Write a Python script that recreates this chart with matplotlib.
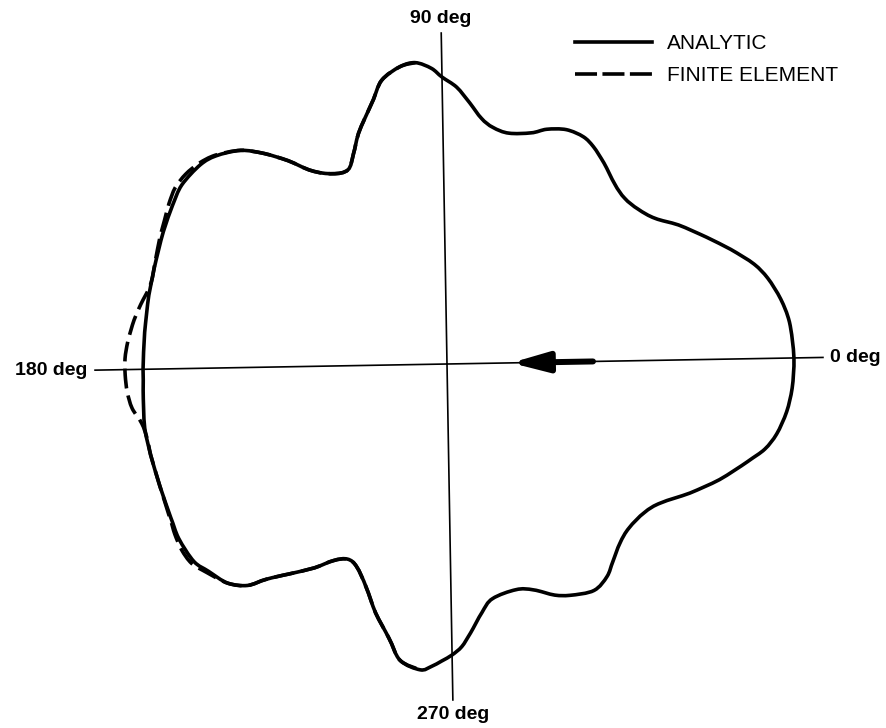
import numpy as np
import matplotlib
matplotlib.use("Agg")
import matplotlib.pyplot as plt
from matplotlib.path import Path
from matplotlib.patches import PathPatch
from matplotlib.lines import Line2D

plt.rcParams.update({"font.family": ["Liberation Sans", "DejaVu Sans"]})

# analytic response, angle (deg) and radius (arbitrary units)
analytic_deg = [0, 6, 10, 14, 17, 21, 25, 30, 34, 38, 42, 46, 51, 55, 58, 62, 66, 69,
                74, 78, 81, 84, 87, 90, 92, 95, 98, 102, 105, 110, 113, 116, 120, 124,
                127, 130, 133, 137, 140, 145, 149, 154, 161, 166, 173, 180, 184, 191,
                196, 202, 208, 212, 217, 220, 224, 227, 229, 232, 236, 239, 242, 245,
                249, 253, 257, 260, 264, 266, 268, 270, 272, 274, 277, 280, 286, 290,
                294, 297, 302, 306, 309, 313, 317, 322, 326, 331, 336, 341, 344, 347,
                351, 355, 360]
analytic_r = [347, 345, 340, 332, 323, 306, 289, 270, 254, 246, 243, 246, 255, 262, 265,
              263, 255, 246, 239, 241, 248, 262, 277, 287, 296, 303, 301, 291, 272, 247,
              230, 218, 222, 236, 258, 279, 297, 311, 317, 320, 317, 313, 308, 306, 304,
              304, 305, 309, 310, 312, 316, 320, 321, 316, 310, 298, 281, 263, 243, 227,
              219, 222, 237, 259, 280, 300, 307, 303, 297, 291, 283, 270, 251, 239, 236,
              242, 255, 262, 270, 266, 258, 249, 245, 247, 255, 275, 296, 316, 329, 337,
              343, 346, 347]

# finite element result (only visible apart from the analytic curve on the left)
fe_deg = [95, 98, 102, 105, 110, 113, 116, 120, 124, 127, 130, 133, 137, 140, 143, 146,
          149, 152, 155, 160, 164, 168, 171, 175, 178, 181, 184, 187, 190, 193, 196, 202,
          208, 211, 214, 217, 220, 224, 227, 229, 232, 236, 239, 242, 245, 249, 253, 257,
          260, 264]
fe_r = [303, 301, 291, 272, 247, 230, 218, 222, 236, 258, 279, 297, 312, 319, 323, 324,
        321, 317, 314, 309, 307, 312, 316, 320, 322, 322, 321, 318, 311, 309, 310, 312,
        317, 321, 324, 324, 318, 310, 298, 281, 263, 243, 227, 219, 222, 237, 259, 280,
        300, 307]

axis_deg = [0, 90, 180, 270]
axis_len = [376, 331, 352, 336]
axis_labels = ["0 deg", "90 deg", "180 deg", "270 deg"]


def smooth_path(theta_deg, r, closed=False):
    """Catmull-Rom curve through the points, as cubic Bezier segments."""
    p = np.column_stack([np.deg2rad(theta_deg), np.asarray(r, float)])
    if closed:
        p = p[:-1]
        turn = np.array([2 * np.pi, 0])
        ext = np.vstack([p[-1] - turn, p, p[0] + turn, p[1] + turn])
    else:
        ext = np.vstack([p[0], p, p[-1]])
    verts, codes = [ext[1]], [Path.MOVETO]
    for i in range(1, len(ext) - 2):
        p0, p1, p2, p3 = ext[i - 1], ext[i], ext[i + 1], ext[i + 2]
        verts += [p1 + (p2 - p0) / 6, p2 - (p3 - p1) / 6, p2]
        codes += [Path.CURVE4] * 3
    return Path(verts, codes)


W, H = 887, 728
cx, cy, R = 447, 364, 390
LW = 2.6
fe_style = (0, (5.5, 2.0))

fig = plt.figure(figsize=(W / 100, H / 100), dpi=100)
ax = fig.add_axes([(cx - R) / W, (H - cy - R) / H, 2 * R / W, 2 * R / H],
                  projection="polar")
ax.set_theta_offset(np.deg2rad(1.0))   # scan is slightly rotated
ax.axis("off")

for d, L in zip(axis_deg, axis_len):
    ax.plot([np.deg2rad(d)] * 2, [0, L], color="black", lw=1.2)

ax.add_patch(PathPatch(smooth_path(analytic_deg, analytic_r, closed=True),
                       fill=False, ec="black", lw=LW, joinstyle="round"))
ax.add_patch(PathPatch(smooth_path(fe_deg, fe_r), fill=False, ec="black", lw=LW,
                       linestyle=fe_style))

# flow direction arrow
ax.annotate("", xy=(0, 64), xytext=(0, 146),
            arrowprops=dict(arrowstyle="-|>,head_length=1.1,head_width=0.3",
                            mutation_scale=20, lw=4.3, color="black",
                            shrinkA=0, shrinkB=0))

lab_r = [383, 346, 360, 351]
lab_ha = ["left", "center", "right", "center"]
for d, r, t, ha in zip(axis_deg, lab_r, axis_labels, lab_ha):
    ax.text(np.deg2rad(d), r, t, ha=ha, va="center", fontsize=14, fontweight="bold")

ax.set_rlim(0, R)

handles = [Line2D([], [], color="black", lw=LW),
           Line2D([], [], color="black", lw=LW, linestyle=(0, (6.1, 1.5)))]
ax.legend(handles, ["ANALYTIC", "FINITE ELEMENT"], loc="upper left",
          bbox_to_anchor=(575 / W, 1 - 34 / H), bbox_transform=fig.transFigure,
          frameon=False, fontsize=15, handlelength=3.7, handletextpad=0.7,
          borderpad=0, borderaxespad=0, labelspacing=0.62)

fig.savefig("out.png", dpi=100, facecolor="white")
